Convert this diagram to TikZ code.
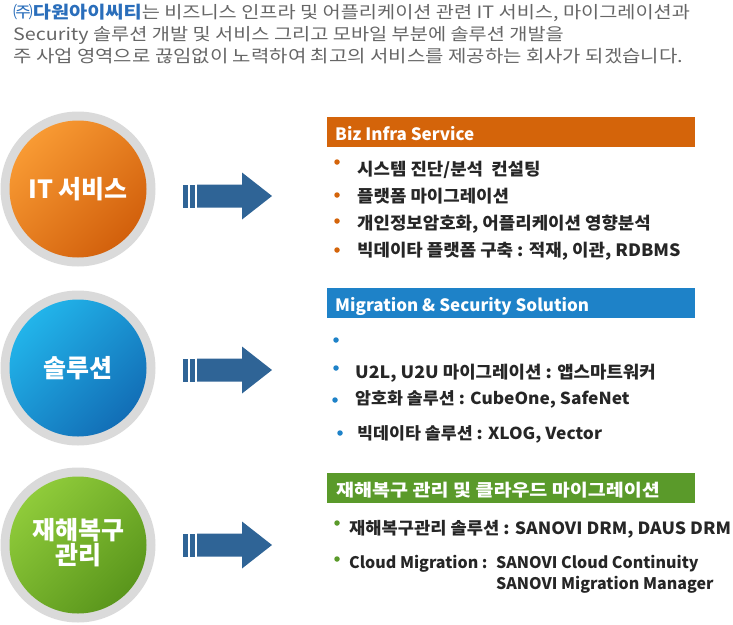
\documentclass[tikz,border=0pt]{standalone}
\usepackage{fontspec}
\newfontfamily\kr{Noto Sans CJK KR}
\newfontfamily\krtop[FakeStretch=1.16]{Noto Sans CJK KR}
\newfontfamily\kritem[FakeStretch=1.05]{Noto Sans CJK KR}
\newfontfamily\krhead[FakeStretch=1.15]{Noto Sans CJK KR}
\usetikzlibrary{shadings}
\definecolor{orgHead}{HTML}{D4640A}
\definecolor{bluHead}{HTML}{1E82C8}
\definecolor{grnHead}{HTML}{5A9A2A}
\definecolor{arrowC}{HTML}{2F6496}
\definecolor{ringC}{HTML}{DADADA}
\definecolor{txtGray}{HTML}{666666}
\definecolor{nameBlue}{HTML}{2A6EBB}
\definecolor{orgL}{HTML}{F89A33}
\definecolor{orgD}{HTML}{D2600C}
\definecolor{bluL}{HTML}{22B4EA}
\definecolor{bluD}{HTML}{126EB6}
\definecolor{grnL}{HTML}{8FCB3A}
\definecolor{grnD}{HTML}{5A961C}
\tikzset{
  ring/.style={circle,fill=ringC,minimum size=155pt,inner sep=0pt},
  disc/.style={circle,minimum size=137pt,inner sep=0pt,top color=#1L,bottom color=#1D,shading angle=45},
  ctext/.style={font=\kr\bfseries\fontsize{25}{29}\selectfont,text=white,align=center},
  head/.style={anchor=north west,minimum width=368pt,minimum height=30pt,inner sep=0pt,fill=#1},
  headtxt/.style={anchor=base west,font=\kr\bfseries\fontsize{17}{20}\selectfont,text=white,inner sep=0pt},
  item/.style={anchor=base west,font=\kritem\bfseries\fontsize{17}{20}\selectfont,text=black!85,inner sep=0pt},
  itemsm/.style={item,font=\kritem\bfseries\fontsize{16.5}{20}\selectfont},
  itemlat/.style={item,font=\kr\bfseries\fontsize{16}{20}\selectfont},
  dot/.style={circle,fill=#1,minimum size=5.5pt,inner sep=0pt},
  toptxt/.style={anchor=base west,font=\krtop\fontsize{17}{20}\selectfont,text=txtGray,inner sep=0pt},
}
\begin{document}
\begin{tikzpicture}[x=1pt,y=-1pt]
\useasboundingbox (0,0) rectangle (733,624);
% intro text
\node[toptxt] (t1) at (13,18) {{\color{nameBlue}㈜\bfseries 다원아이씨티}는 비즈니스 인프라 및 어플리케이션 관련 IT 서비스, 마이그레이션과};
\node[toptxt] (t2) at (13,40) {Security 솔루션 개발 및 서비스 그리고 모바일 부분에 솔루션 개발을};
\node[toptxt,font=\krtop\fontsize{17.2}{20}\selectfont] (t3) at (13,62) {주 사업 영역으로 끊임없이 노력하여 최고의 서비스를 제공하는 회사가 되겠습니다.};
% circles
\foreach \cy/\col/\nm in {189/org/c1, 368/blu/c2, 545/grn/c3}{
  \node[ring] (\nm r) at (78,\cy) {};
  \node[disc=\col] (\nm) at (78,\cy) {};
}
\node[ctext] (l1) at (c1) {IT 서비스};
\node[ctext] (l2) at (c2) {솔루션};
\node[ctext] (l3) at (78,543) {재해복구\\[-4pt]관리};
% arrows
\foreach \ay in {196,370,545}{
  \fill[arrowC] (183,\ay-11.5) rectangle (188,\ay+11.5);
  \fill[arrowC] (190,\ay-11.5) rectangle (194.5,\ay+11.5);
  \fill[arrowC] (197,\ay-11.5) -- (242,\ay-11.5) -- (242,\ay-23.5) -- (272,\ay) -- (242,\ay+23.5) -- (242,\ay+11.5) -- (197,\ay+11.5) -- cycle;
}
% header bars
\node[head=orgHead] (h1) at (327,117) {};
\node[headtxt] (h1t) at (335,140) {Biz Infra Service};
\node[head=bluHead] (h2) at (327,288) {};
\node[headtxt] (h2t) at (335,311) {Migration \& Security Solution};
\node[head=grnHead] (h3) at (327,473) {};
\node[headtxt,font=\krhead\bfseries\fontsize{17}{20}\selectfont] (h3t) at (336,496) {재해복구 관리 및 클라우드 마이그레이션};
% Biz items
\node[dot=orgHead] (b1d) at (337,162) {};
\node[item] (b1) at (357,175) {시스템 진단/분석 \ 컨설팅};
\node[dot=orgHead] (b2d) at (337,195) {};
\node[item] (b2) at (357,202) {플랫폼 마이그레이션};
\node[dot=orgHead] (b3d) at (337,221) {};
\node[item] (b3) at (357,229) {개인정보암호화, 어플리케이션 영향분석};
\node[dot=orgHead] (b4d) at (337,250) {};
\node[item] (b4) at (357,256) {빅데이타 플랫폼 구축 : 적재, 이관, RDBMS};
% Migration items
\node[dot=bluHead] (m0d) at (336,340) {};
\node[dot=bluHead] (m1d) at (336,368) {};
\node[item] (m1) at (355,378) {U2L, U2U 마이그레이션 : 앱스마트워커};
\node[dot=bluHead] (m2d) at (335,400) {};
\node[itemsm] (m2) at (355,404) {암호화 솔루션 : CubeOne, SafeNet};
\node[dot=bluHead] (m3d) at (340,433) {};
\node[itemsm] (m3) at (357,439) {빅데이타 솔루션 : XLOG, Vector};
% green items
\node[dot=grnHead] (g1d) at (337,523) {};
\node[item,font=\kritem\bfseries\fontsize{16.8}{20}\selectfont] (g1) at (349,534) {재해복구관리 솔루션 : SANOVI DRM, DAUS DRM};
\node[dot=grnHead] (g2d) at (337,559) {};
\node[itemlat] (g2) at (349,568) {Cloud Migration :};
\node[itemlat] (g3) at (496,568) {SANOVI Cloud Continuity};
\node[itemlat] (g4) at (496,589) {SANOVI Migration Manager};
\end{tikzpicture}
\end{document}
